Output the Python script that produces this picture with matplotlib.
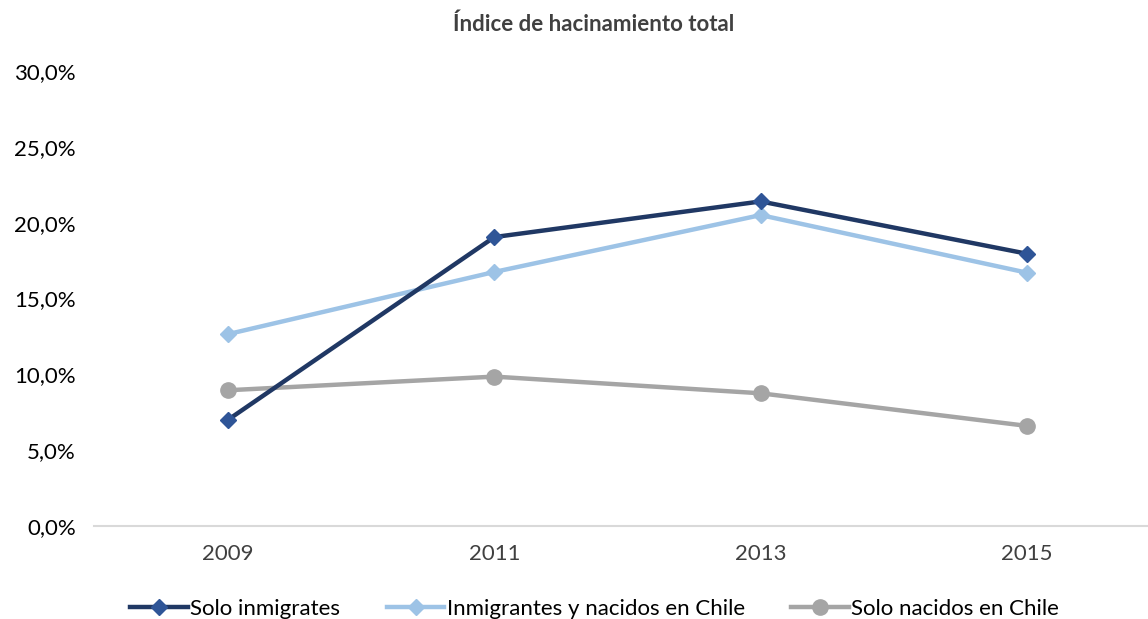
import matplotlib
matplotlib.use("Agg")
import matplotlib.pyplot as plt
from matplotlib.ticker import FuncFormatter

years = ["2009", "2011", "2013", "2015"]
solo_inmigrates = [7.0, 19.05, 21.4, 17.95]
inmigrantes_y_nacidos = [12.65, 16.75, 20.5, 16.7]
solo_nacidos = [8.95, 9.85, 8.75, 6.6]

plt.rcParams["font.family"] = ["Lato", "DejaVu Sans"]

fig = plt.figure(figsize=(11.48, 6.19), dpi=100)
ax = fig.add_axes([94 / 1148, 1 - 526 / 619, 1 - 94 / 1148, (526 - 71) / 619])

x = list(range(len(years)))
ax.plot(x, inmigrantes_y_nacidos, color="#9DC3E6", lw=3.2, marker="D", ms=8,
        mfc="#9DC3E6", mec="#9DC3E6", label="Inmigrantes y nacidos en Chile", zorder=3)
ax.plot(x, solo_nacidos, color="#A5A5A5", lw=3.2, marker="o", ms=11,
        mfc="#A5A5A5", mec="#A5A5A5", label="Solo nacidos en Chile", zorder=2)
ax.plot(x, solo_inmigrates, color="#203864", lw=3.2, marker="D", ms=8,
        mfc="#2F5597", mec="#2F5597", label="Solo inmigrates", zorder=4)

ax.set_xlim(-0.503, 3.454)
ax.set_ylim(0, 30)
ax.set_yticks([0, 5, 10, 15, 20, 25, 30])
ax.yaxis.set_major_formatter(FuncFormatter(lambda v, p: f"{v:.1f}%".replace(".", ",")))
ax.set_xticks(x)
ax.set_xticklabels(years)
for s in ["top", "right", "left"]:
    ax.spines[s].set_visible(False)
ax.spines["bottom"].set_color("#D9D9D9")
ax.spines["bottom"].set_linewidth(1.5)
ax.tick_params(axis="both", length=0, labelsize=16, colors="#404040")
ax.tick_params(axis="y", pad=13, colors="#000000")
ax.tick_params(axis="x", pad=13)

# titulo
fig.text(594 / 1148, 1 - 24 / 619, "Índice de hacinamiento total", ha="center", va="center",
         fontsize=16, fontweight="bold", color="#404040")

h, l = ax.get_legend_handles_labels()
order = [2, 0, 1]
fig.legend([h[i] for i in order], [l[i] for i in order], loc="center",
           bbox_to_anchor=(0.518, 1 - 609 / 619), ncol=3, frameon=False,
           fontsize=16, handlelength=2.6, handletextpad=0.1, columnspacing=2.1)

fig.savefig("out.png", dpi=100)
plt.close()
